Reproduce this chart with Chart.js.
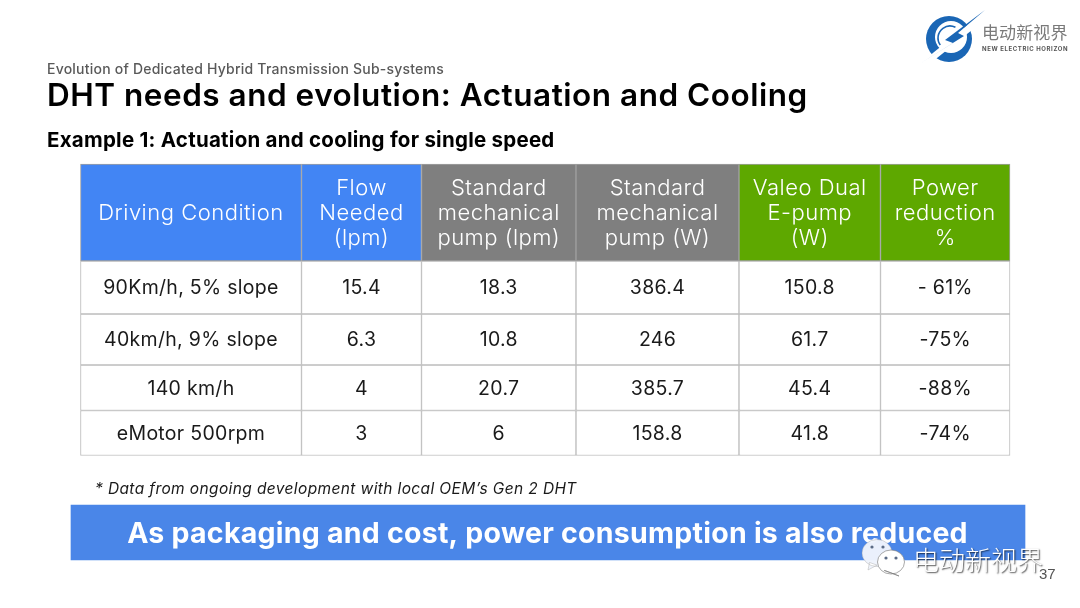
<!DOCTYPE html>
<html><head><meta charset="utf-8">
<script src="https://cdn.jsdelivr.net/npm/chart.js@4"></script>
<style>html,body{margin:0;padding:0;background:#fff}canvas{display:block}</style>
</head><body><canvas id="c" width="1080" height="608"></canvas>
<script>
const columnHeaders = [["Driving Condition"],["Flow","Needed","(lpm)"],["Standard","mechanical","pump (lpm)"],["Standard","mechanical","pump (W)"],["Valeo Dual","E-pump","(W)"],["Power","reduction","%"]];
const drivingConditions = ["90Km/h, 5% slope","40km/h, 9% slope","140 km/h","eMotor 500rpm"];
const flowNeeded = ["15.4","6.3","4","3"];
const mechanicalLpm = ["18.3","10.8","20.7","6"];
const mechanicalW = ["386.4","246","385.7","158.8"];
const valeoW = ["150.8","61.7","45.4","41.8"];
const powerReduction = ["- 61%","-75%","-88%","-74%"];
const columnEdges = [80.5,301.5,421.5,576,739,880.5,1010];
const rowEdges = [164,261,314,365,410.5,455.5];
const headerColors = ["#4285f4","#4285f4","#7f7f7f","#7f7f7f","#5ea800","#5ea800"];
const bannerText = "As packaging and cost, power consumption is also reduced";
const bannerRange = [71,1025], bannerRows = [505,560];

const bodyColumns = [drivingConditions,flowNeeded,mechanicalLpm,mechanicalW,valeoW,powerReduction];
const F = "Inter, sans-serif";
const datasets = [];
rowEdges.slice(0,-1).forEach((top,r)=>{
  const h = rowEdges[r+1]-top;
  datasets.push({
    data: columnEdges.slice(0,-1).map((l,c)=>({x:[l,columnEdges[c+1]],y:top+h/2})),
    backgroundColor: r===0?headerColors:"#ffffff",
    borderColor: r===0?"#a0a0a0":"#bdbdbd",
    borderWidth: 1, borderSkipped:false, barThickness:h, grouped:false
  });
});
datasets.push({data:[{x:bannerRange,y:(bannerRows[0]+bannerRows[1])/2}],backgroundColor:"#4a86e8",borderWidth:0,barThickness:bannerRows[1]-bannerRows[0],grouped:false});

function T(ctx,s,x,y,font,color,align,sp){
  ctx.save();ctx.font=font;ctx.fillStyle=color;ctx.textAlign=align||"left";ctx.textBaseline="middle";
  ctx.letterSpacing=(sp||0)+"px";ctx.fillText(s,x,y);ctx.restore();
}
const textPlugin={id:"tableText",afterDatasetsDraw(chart){
  const {ctx,scales:{x,y}}=chart;
  const cx=c=>x.getPixelForValue((columnEdges[c]+columnEdges[c+1])/2);
  const cy=r=>y.getPixelForValue((rowEdges[r]+rowEdges[r+1])/2);
  T(ctx,"Evolution of Dedicated Hybrid Transmission Sub-systems",47,69.5,"500 14px "+F,"#595959","left",0.22);
  T(ctx,"DHT needs and evolution: Actuation and Cooling",47,97,"600 31.5px "+F,"#000","left",0.52);
  T(ctx,"Example 1: Actuation and cooling for single speed",47,141,"700 20.5px "+F,"#000","left",0.25);
  columnHeaders.forEach((lines,c)=>lines.forEach((s,i)=>{
    T(ctx,s,cx(c),cy(0)+1+(i-(lines.length-1)/2)*25,"300 22px "+F,"#fff","center",0.5);
  }));
  bodyColumns.forEach((col,c)=>col.forEach((s,r)=>{
    T(ctx,s,cx(c),cy(r+1)+1,"400 19.5px "+F,"#1a1a1a","center",0.3);
  }));
  T(ctx,"* Data from ongoing development with local OEM’s Gen 2 DHT",95,489.5,"italic 400 15.5px "+F,"#1a1a1a","left",0.38);
  T(ctx,bannerText,x.getPixelForValue((bannerRange[0]+bannerRange[1])/2)-0.5,y.getPixelForValue(534),"700 28.5px "+F,"#fff","center",0.25);
  drawLogo(ctx);drawWatermark(ctx);
}};
function drawLogo(ctx){
  ctx.save();
  const B="#1a66b5";
  ctx.fillStyle=B;ctx.beginPath();ctx.arc(949,39,23,0,7);ctx.fill();
  ctx.fillStyle="#fff";ctx.beginPath();ctx.arc(951,37,16,0,7);ctx.fill();
  ctx.fillStyle="#fff";ctx.beginPath();ctx.moveTo(917,66);ctx.lineTo(988,8);ctx.lineTo(972,30);ctx.lineTo(932,62);ctx.closePath();ctx.fill();
  ctx.strokeStyle=B;ctx.lineWidth=1.6;ctx.beginPath();ctx.arc(950,38,12,Math.PI*0.8,Math.PI*1.65);ctx.stroke();
  ctx.fillStyle=B;ctx.beginPath();ctx.moveTo(921,63);ctx.lineTo(953,43);ctx.lineTo(945,40);ctx.lineTo(985,10);ctx.lineTo(958,33);ctx.lineTo(964,36);ctx.closePath();ctx.fill();
  ctx.restore();
  T(ctx,"电动新视界",982,33,"400 17px 'Noto Sans CJK SC'","#7a7a7a","left",0.1);
  T(ctx,"NEW ELECTRIC HORIZON",982,49,"700 6px "+F,"#555","left",0.6);
}
function bubble(ctx,x,y,rx,ry,tx,ty){
  ctx.beginPath();ctx.ellipse(x,y,rx,ry,0,0,Math.PI*2);ctx.moveTo(x-rx*0.5,y+ry*0.7);ctx.lineTo(tx,ty);ctx.lineTo(x,y+ry*0.9);ctx.closePath();
}
function drawWatermark(ctx){
  ctx.save();
  ctx.fillStyle="rgba(240,244,252,0.97)";ctx.strokeStyle="rgba(150,150,150,0.45)";ctx.lineWidth=0.8;
  bubble(ctx,877,553,15,13.5,868,570);ctx.fill();ctx.stroke();
  ctx.fillStyle="#fff";ctx.strokeStyle="rgba(120,120,120,0.8)";
  bubble(ctx,891,562,13.5,12,899,576);ctx.fill();ctx.stroke();
  ctx.fillStyle="#5b6b85";
  [[872,547],[883,547],[886,558],[896,558]].forEach(p=>{ctx.beginPath();ctx.arc(p[0],p[1],1.6,0,7);ctx.fill();});
  ctx.restore();
  ctx.save();ctx.font="300 26px 'Noto Sans CJK SC'";ctx.textBaseline="middle";ctx.fillStyle="#fff";
  ctx.shadowColor="rgba(0,0,0,0.75)";ctx.shadowBlur=1.5;ctx.shadowOffsetX=1;ctx.shadowOffsetY=1;
  ctx.fillText("电动新视界",913,560);ctx.restore();
  T(ctx,"37",1039,575,"400 15px 'Liberation Sans'","#555","left",0);
}
new Chart(document.getElementById("c"),{
  type:"bar",
  data:{datasets},
  plugins:[textPlugin],
  options:{indexAxis:"y",responsive:false,animation:false,events:[],layout:{padding:0},
    plugins:{legend:{display:false},tooltip:{enabled:false},title:{display:false}},
    scales:{
      x:{type:"linear",min:0,max:1080,display:false},
      y:{type:"linear",min:0,max:608,reverse:true,display:false,offset:false}
    }}
});
</script></body></html>
